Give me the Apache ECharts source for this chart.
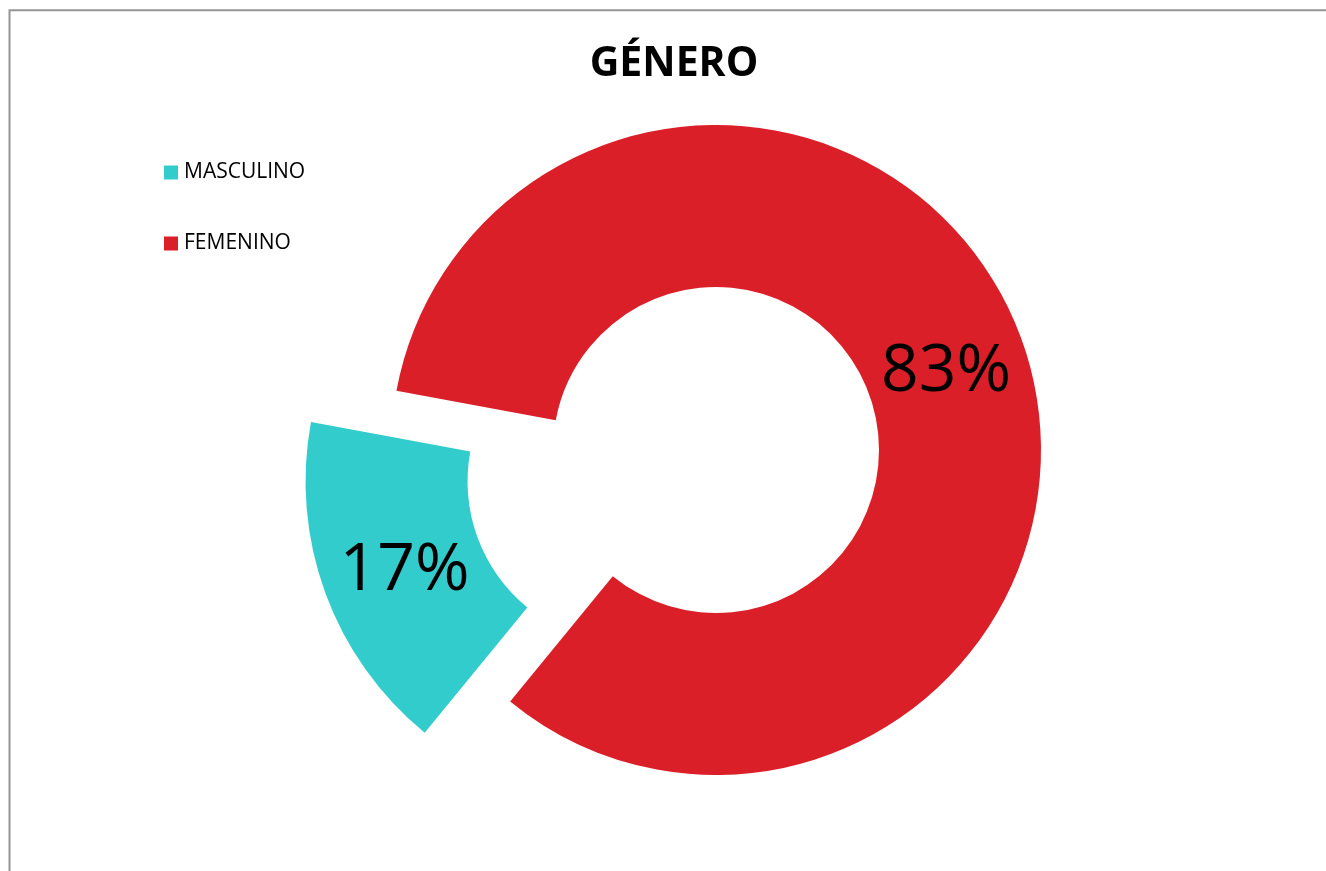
<!DOCTYPE html>
<html>
<head>
<meta charset="utf-8">
<script src="https://cdn.jsdelivr.net/npm/echarts@6/dist/echarts.min.js"></script>
<style>
html,body{margin:0;padding:0;background:#fff;}
#chart{width:1326px;height:871px;}
</style>
</head>
<body>
<div id="chart"></div>
<script>
const titleText = 'GÉNERO';
const categories = ['MASCULINO', 'FEMENINO'];
const values = [17, 83];
const colors = ['#33CCCC', '#DA1F28'];
const explodedCategory = 'MASCULINO';

const chart = echarts.init(document.getElementById('chart'));
const font = '"Open Sans", Calibri, sans-serif';
const labelOffsets = [[6, 5], [-2, 7]];
chart.setOption({
  animation: false,
  backgroundColor: '#ffffff',
  title: {
    text: titleText,
    left: 669, top: 39,
    textAlign: 'center',
    textStyle: {fontFamily: font, fontSize: 41, fontWeight: 'bold', color: '#000'}
  },
  legend: {
    orient: 'vertical',
    left: 159, top: 157,
    itemWidth: 14, itemHeight: 14,
    itemGap: 50,
    icon: 'rect',
    selectedMode: false,
    data: categories,
    textStyle: {fontFamily: font, fontSize: 21, color: '#000', padding: [0,0,0,1]}
  },
  graphic: [{
    type: 'rect',
    shape: {x: 9.5, y: 10.3, width: 1400, height: 1000},
    style: {fill: 'none', stroke: '#959595', lineWidth: 2},
    silent: true
  }],
  series: [{
    type: 'pie',
    center: [716, 450],
    radius: [163, 325],
    startAngle: 230.7,
    clockwise: true,
    selectedMode: 'single',
    selectedOffset: 91,
    emphasis: {scale: false, disabled: true},
    label: {
      show: true,
      position: 'inside',
      formatter: p => Math.round(p.percent) + '%',
      fontFamily: font, fontSize: 66, color: '#000', fontWeight: 'normal'
    },
    labelLine: {show: false},
    data: categories.map((c, i) => ({
      name: c, value: values[i],
      selected: c === explodedCategory,
      itemStyle: {color: colors[i]},
      label: {offset: labelOffsets[i]},
      select: {label: {offset: labelOffsets[i]}, itemStyle: {color: colors[i]}}
    }))
  }]
});
</script>
</body>
</html>
